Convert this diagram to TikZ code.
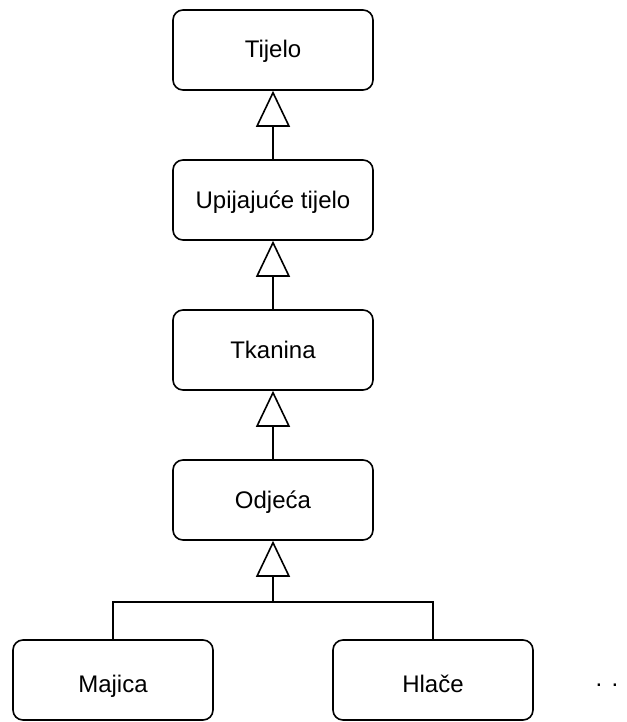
\documentclass[tikz,border=0pt]{standalone}
\usepackage{fontspec}
\setmainfont{Liberation Sans}
\usetikzlibrary{arrows.meta}

\begin{document}
\begin{tikzpicture}[x=1pt, y=-1pt, line width=1.6pt,
		klasa/.style={draw, rounded corners=10pt, minimum width=200pt, minimum height=80pt, text height=18pt, text depth=2pt, font=\fontsize{24}{29}\selectfont},
		dolje/.style={klasa, text height=26pt},
		nasljedi/.style={-{Triangle[open, length=36pt, width=34pt]}}]
			\useasboundingbox (0,0) rectangle (626,722);
			\node[klasa] (tijelo) at (273,50) {Tijelo};
			\node[klasa] (upijajuce) at (273,200) {Upijajuće tijelo};
			\node[klasa] (tkanina) at (273,350) {Tkanina};
			\node[klasa] (odjeca) at (273,500) {Odjeća};
			\node[dolje] (majica) at (113,680) {Majica};
			\node[dolje] (hlace) at (433,680) {Hlače};
			\node[anchor=base, font=\fontsize{24}{29}\selectfont] (dalje) at (607,686) {.\hspace{9.3pt}.};
			\coordinate (spoj) at (273,602);
			\draw[nasljedi] (upijajuce) -- (tijelo);
			\draw[nasljedi] (tkanina) -- (upijajuce);
			\draw[nasljedi] (odjeca) -- (tkanina);
			\draw[nasljedi] (spoj) -- (odjeca);
			\draw (majica.north) |- (spoj) -| (hlace.north);
		\end{tikzpicture}
\end{document}
